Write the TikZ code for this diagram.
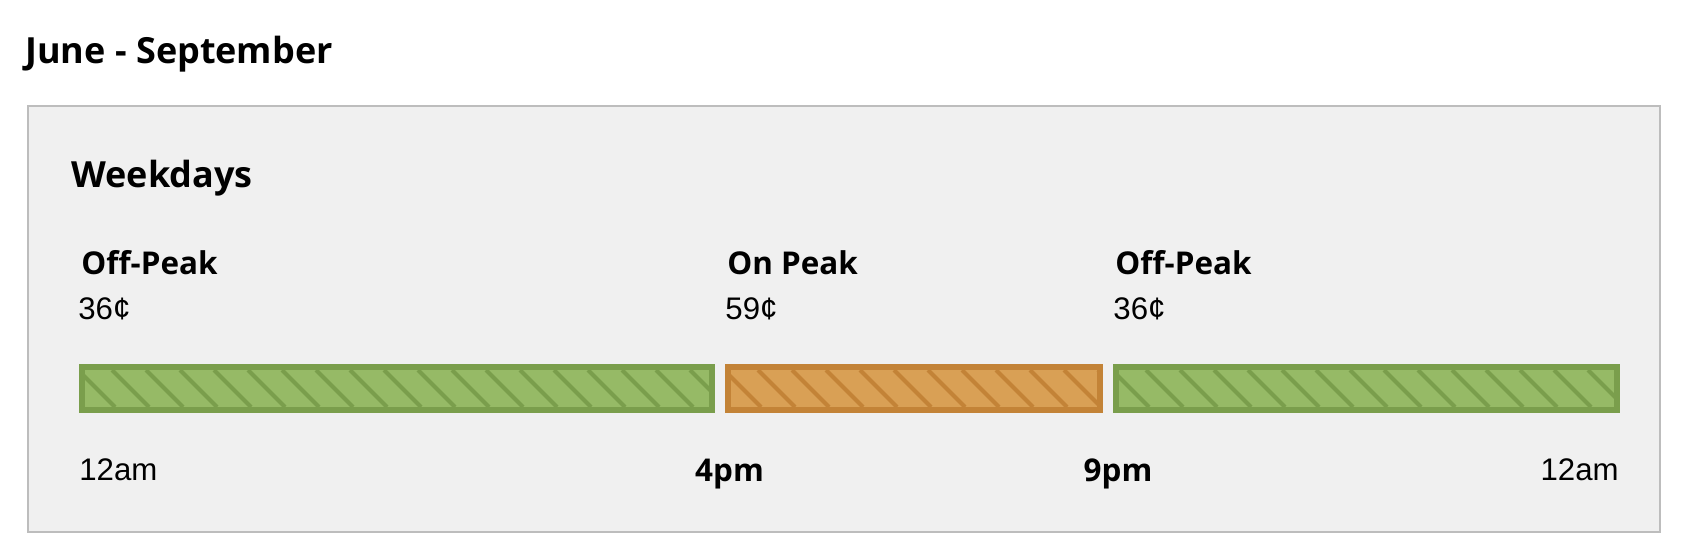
\documentclass[tikz,border=0pt]{standalone}
\usepackage{fontspec}
\setmainfont{Open Sans}
\newfontfamily\pricefont{Liberation Sans}
\definecolor{panelbg}{HTML}{F0F0F0}
\definecolor{panelline}{HTML}{BDBDBD}
\definecolor{offfill}{HTML}{96BA66}
\definecolor{offline}{HTML}{7A9E4C}
\definecolor{onfill}{HTML}{D9A055}
\definecolor{online}{HTML}{C38337}

\tikzset{
  lbl/.style={inner sep=0pt, anchor=base west},
  heading/.style={lbl, font=\fontsize{18}{20}\selectfont\bfseries},
  period/.style={lbl, font=\fontsize{15.7}{16}\selectfont\bfseries},
  price/.style={lbl, font=\fontsize{15.6}{16}\selectfont\pricefont},
  hour/.style={inner sep=0pt, anchor=base, font=\fontsize{15.7}{16}\selectfont\bfseries},
  midnight/.style={inner sep=0pt, font=\fontsize{15.6}{16}\selectfont\pricefont}
}

% hatched bar: #1 left, #2 right, #3 fill, #4 line colour
\newcommand{\ratebar}[4]{%
  \begin{scope}
    \clip (#1+6,370) rectangle (#2-6,407);
    \fill[#3] (#1,364) rectangle (#2,413);
    \foreach \t in {-35,-1,...,#2}
      \draw[#4, line width=2pt] ({#1+\t},370) -- ({#1+\t+37},407);
  \end{scope}
  \draw[#4, line width=3pt] (#1+3,367) rectangle (#2-3,410);
}

\begin{document}
\begin{tikzpicture}[x=0.5pt, y=-0.5pt]
    \useasboundingbox (0,0) rectangle (1686,558);
    \node[heading] (season) at (25,63) {June - September};
    \draw[panelline, fill=panelbg, line width=1pt] (28,106) rectangle (1660,532);
    \node[heading] (days) at (71,187) {Weekdays};

    \node[period] (off1) at (81,274) {Off-Peak};
    \node[price] (p1) at (78,319) {36¢};
    \node[period] (on) at (727,274) {On Peak};
    \node[price] (p2) at (725,319) {59¢};
    \node[period] (off2) at (1115,274) {Off-Peak};
    \node[price] (p3) at (1113,319) {36¢};

    \ratebar{79}{715}{offfill}{offline}
    \ratebar{725}{1103}{onfill}{online}
    \ratebar{1113}{1620}{offfill}{offline}

    \node[midnight, anchor=base west] (start) at (79,480) {12am};
    \node[hour] (four) at (729.5,481) {4pm};
    \node[hour] (nine) at (1118,481) {9pm};
    \node[midnight, anchor=base east] (end) at (1619,480) {12am};
\end{tikzpicture}
\end{document}
